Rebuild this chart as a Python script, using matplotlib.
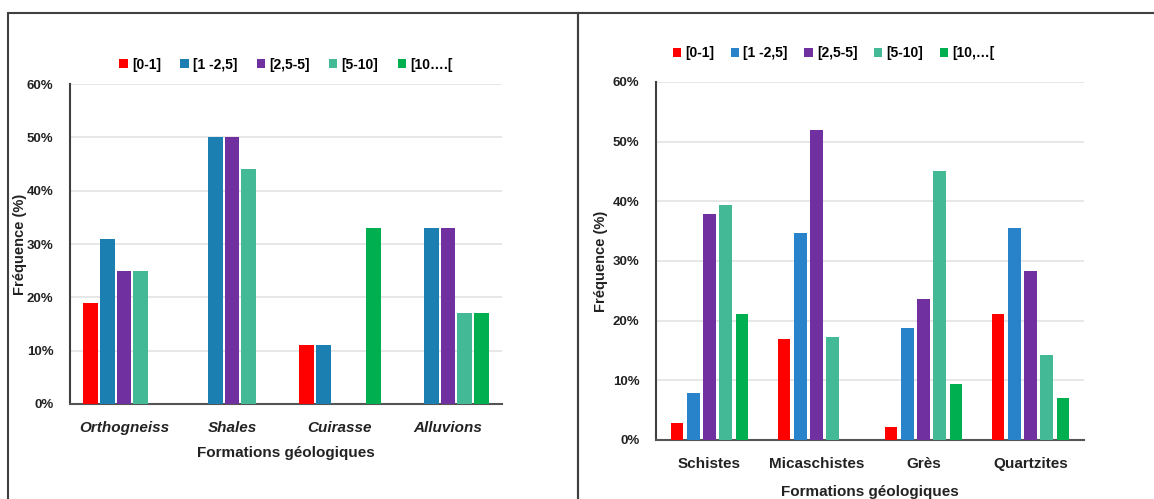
import numpy as np
import matplotlib
matplotlib.use("Agg")
import matplotlib.pyplot as plt
from matplotlib.patches import Rectangle
from matplotlib.ticker import PercentFormatter

plt.rcParams['font.family'] = ['Liberation Sans', 'DejaVu Sans']

# Data
classes_left = ['[0-1]', '[1 -2,5]', '[2,5-5]', '[5-10]', '[10….[']
classes_right = ['[0-1]', '[1 -2,5]', '[2,5-5]', '[5-10]', '[10,…[']

formations_left = ['Orthogneiss', 'Shales', 'Cuirasse', 'Alluvions']
values_left = [
    [19, 0, 11, 0],    # [0-1]
    [31, 50, 11, 33],  # [1-2,5]
    [25, 50, 0, 33],   # [2,5-5]
    [25, 44, 0, 17],   # [5-10]
    [0, 0, 33, 17],    # [10...[
]

formations_right = ['Schistes', 'Micaschistes', 'Grès', 'Quartzites']
values_right = [
    [2.9, 16.9, 2.2, 21.2],
    [7.8, 34.7, 18.8, 35.5],
    [37.9, 52.0, 23.7, 28.4],
    [39.4, 17.3, 45.0, 14.2],
    [21.2, 0, 9.4, 7.1],
]

colors_left = ['#FF0000', '#1B7FB1', '#7030A0', '#43B995', '#00B050']
colors_right = ['#FF0000', '#2883CA', '#7030A0', '#43B995', '#00B050']

fig = plt.figure(figsize=(11.54, 4.99), dpi=100)

# panel frames
fig.patches.append(Rectangle((8 / 1154, -0.05), 570 / 1154, 1 - 13 / 499 + 0.05,
                             transform=fig.transFigure, fill=False,
                             edgecolor='#404040', linewidth=1.5))
fig.patches.append(Rectangle((578 / 1154, -0.05), 600 / 1154, 1 - 13 / 499 + 0.05,
                             transform=fig.transFigure, fill=False,
                             edgecolor='#404040', linewidth=1.5))


def draw_panel(ax, cats, vals, cols, labels, italic, slot, barw):
    x = np.arange(len(cats))
    n = len(vals)
    for i in range(n):
        v = np.array(vals[i]) / 100.0
        ax.bar(x + (i - (n - 1) / 2) * slot, v, width=barw, color=cols[i],
               label=labels[i], zorder=3)
    ax.set_xlim(-0.5, len(cats) - 0.5)
    ax.set_ylim(0, 0.6)
    ax.set_yticks(np.arange(0, 0.61, 0.1))
    ax.yaxis.set_major_formatter(PercentFormatter(1.0, decimals=0))
    ax.grid(axis='y', color='#e3e3e3', linewidth=1.2, zorder=0)
    ax.set_axisbelow(True)
    for s in ['top', 'right']:
        ax.spines[s].set_visible(False)
    ax.spines['left'].set_color('#404040')
    ax.spines['left'].set_linewidth(1.5)
    ax.spines['bottom'].set_color('#555555')
    ax.spines['bottom'].set_linewidth(1.5)
    ax.tick_params(axis='y', length=0, pad=12)
    ax.tick_params(axis='x', length=0, pad=12)
    ax.set_xticks(x)
    ax.set_xticklabels(cats, fontsize=11, fontweight='bold',
                       style='italic' if italic else 'normal', color='#222222')
    for t in ax.get_yticklabels():
        t.set_fontsize(9.5)
        t.set_fontweight('bold')
        t.set_color('#222222')


# left panel
axl = fig.add_axes([70 / 1154, 1 - 404 / 499, 432 / 1154, 320 / 499])
draw_panel(axl, formations_left, values_left, colors_left, classes_left, True, 0.155, 0.135)
axl.set_xlabel('Formations géologiques', fontsize=11, fontweight='bold',
               labelpad=8, color='#222222')
axl.set_ylabel('Fréquence (%)', fontsize=10.5, fontweight='bold', color='#222222')
axl.yaxis.set_label_coords(-0.1, 0.5)
axl.legend(loc='lower center', bbox_to_anchor=(0.5, 1.0), ncol=5, frameon=False,
           handlelength=0.6, handleheight=0.6, handletextpad=0.3,
           columnspacing=1.4, prop={'weight': 'bold', 'size': 10})

# right panel
axr = fig.add_axes([656 / 1154, 1 - 440 / 499, 428 / 1154, 358 / 499])
draw_panel(axr, formations_right, values_right, colors_right, classes_right, False, 0.152, 0.118)
axr.set_xlabel('Formations géologiques', fontsize=11, fontweight='bold',
               labelpad=10, color='#222222')
axr.set_ylabel('Fréquence (%)', fontsize=10.5, fontweight='bold', color='#222222')
axr.yaxis.set_label_coords(-0.113, 0.5)
axr.legend(loc='lower center', bbox_to_anchor=(0.415, 1.026), ncol=5, frameon=False,
           handlelength=0.6, handleheight=0.6, handletextpad=0.3,
           columnspacing=1.2, prop={'weight': 'bold', 'size': 10})

fig.savefig('out.png', dpi=100)
